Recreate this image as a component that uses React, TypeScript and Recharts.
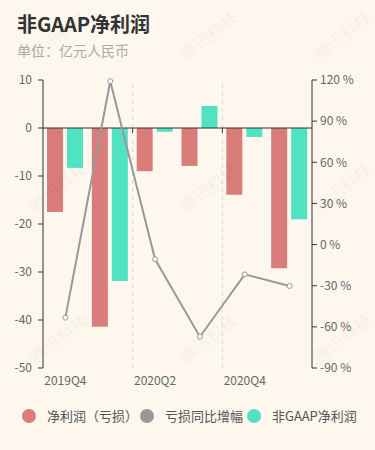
import React from 'react';
import { ComposedChart, Bar, Line, XAxis, YAxis, ReferenceLine } from 'recharts';

const quarters = ['2019Q4', '2020Q1', '2020Q2', '2020Q3', '2020Q4', '2021Q1'];
const netLoss = [-17.5, -41.4, -9.0, -7.9, -13.9, -29.2];
const nonGaap = [-8.3, -31.9, -0.8, 4.6, -1.9, -19.0];
const lossYoY = [-53.3, 119.1, -10.7, -67.2, -21.7, -30.2];

const leftTicks = [-50, -40, -30, -20, -10, 0, 10];
const rightTicks = [-90, -60, -30, 0, 30, 60, 90, 120];
const splitAt = ['2020Q2', '2020Q4'];

const RED = '#d97c7a';
const GREY = '#999999';
const GREEN = '#50e3c2';
const FONT = '"Noto Sans CJK SC", "Noto Sans", sans-serif';

const watermarks = [
  [58, 35], [208, 35], [342, 35],
  [58, 187], [208, 187], [342, 187],
  [58, 338], [208, 338], [342, 338],
];

const App: React.FC = () => {
  const data = quarters.map((q, i) => ({
    q,
    netLoss: netLoss[i],
    nonGaap: nonGaap[i],
    yoy: lossYoY[i],
  }));

  const legend = [
    { name: '净利润（亏损）', color: RED, x: 29 },
    { name: '亏损同比增幅', color: GREY, x: 147 },
    { name: '非GAAP净利润', color: GREEN, x: 254 },
  ];

  return (
    <div style={{ position: 'relative', width: 375, height: 450, background: '#fdf7ee', fontFamily: FONT, overflow: 'hidden' }}>
      <style>{`body{margin:0}`}</style>
      <div style={{ position: 'absolute', left: 17, top: 10, fontSize: 20, fontWeight: 'bold', color: '#333', lineHeight: '28px' }}>
        非GAAP净利润
      </div>
      <div style={{ position: 'absolute', left: 17, top: 40, fontSize: 14, color: '#aaa', lineHeight: '20px' }}>
        单位：亿元人民币
      </div>

      <div style={{ position: 'absolute', left: 0, top: 0 }}>
        <ComposedChart
          width={375}
          height={450}
          data={data}
          margin={{ top: 80, right: 0, left: 0, bottom: 52 }}
          barSize={16}
          barGap={4}
        >
          <XAxis
            xAxisId="cat"
            dataKey="q"
            interval={1}
            axisLine={false}
            tickLine={false}
            height={30}
            tick={{ fill: '#666', fontSize: 12, fontFamily: FONT }}
          />
          <YAxis
            yAxisId="left"
            orientation="left"
            width={43}
            domain={[-50, 10]}
            ticks={leftTicks}
            interval={0}
            tickSize={5}
            tickMargin={6}
            axisLine={{ stroke: '#333' }}
            tickLine={{ stroke: '#333' }}
            tick={{ fill: '#666', fontSize: 12, fontFamily: FONT }}
          />
          <YAxis
            yAxisId="right"
            orientation="right"
            width={63}
            domain={[-90, 120]}
            ticks={rightTicks}
            interval={0}
            tickSize={5}
            tickMargin={3}
            axisLine={{ stroke: '#333' }}
            tickLine={{ stroke: '#333' }}
            tick={{ fill: '#666', fontSize: 12, fontFamily: FONT }}
            tickFormatter={(v: number) => `${v} %`}
          />
          {splitAt.map((q) => (
            <ReferenceLine key={`g${q}`} xAxisId="cat" yAxisId="left" x={q} position="start" stroke="#d6d6d6" strokeDasharray="4 4" />
          ))}
          <Bar xAxisId="cat" yAxisId="left" dataKey="netLoss" name="净利润（亏损）" fill={RED} isAnimationActive={false} />
          <Bar xAxisId="cat" yAxisId="left" dataKey="nonGaap" name="非GAAP净利润" fill={GREEN} isAnimationActive={false} />
          <ReferenceLine xAxisId="cat" yAxisId="left" y={0} stroke="#333" />
          {splitAt.map((q) => (
            <ReferenceLine
              key={`t${q}`}
              xAxisId="cat"
              yAxisId="left"
              position="start"
              segment={[{ x: q, y: 0 }, { x: q, y: -1 }]}
              stroke="#333"
            />
          ))}
          <Line
            xAxisId="cat"
            yAxisId="right"
            dataKey="yoy"
            name="亏损同比增幅"
            stroke={GREY}
            strokeWidth={2}
            dot={{ r: 2.5, fill: '#fff', stroke: GREY, strokeWidth: 1 }}
            isAnimationActive={false}
          />
        </ComposedChart>
      </div>

      {legend.map((l) => (
        <div key={l.name}>
          <div style={{ position: 'absolute', left: l.x - 7, top: 409, width: 14, height: 14, borderRadius: 7, background: l.color }} />
          <div style={{ position: 'absolute', left: l.x + 18, top: 406, fontSize: 13, color: '#555', lineHeight: '20px', whiteSpace: 'nowrap' }}>
            {l.name}
          </div>
        </div>
      ))}

      {watermarks.map(([x, y], i) => (
        <div
          key={`w${i}`}
          style={{
            position: 'absolute',
            left: x - 40,
            top: y - 11,
            width: 80,
            textAlign: 'center',
            fontSize: 17,
            lineHeight: '22px',
            color: 'rgba(0,0,0,0.05)',
            transform: 'rotate(-38deg)',
            pointerEvents: 'none',
            whiteSpace: 'nowrap',
          }}
        >
          腾讯科技
        </div>
      ))}
    </div>
  );
};

export default App;
